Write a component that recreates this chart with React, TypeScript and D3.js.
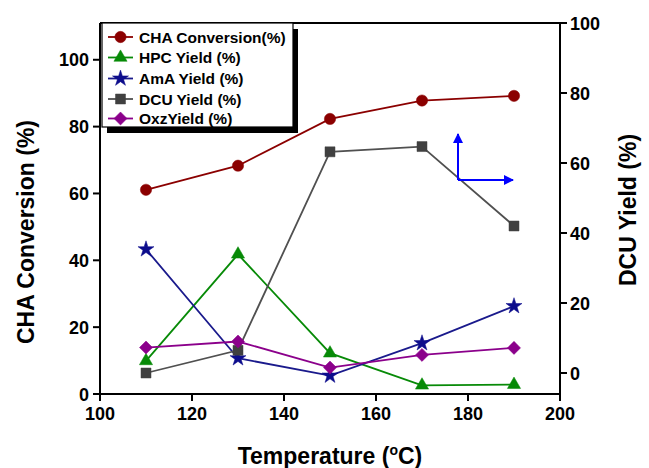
import React from "react";
import * as d3 from "d3";

const temps = [110, 130, 150, 170, 190];
const chaConversion = [61.1, 68.3, 82.3, 87.8, 89.2];
const hpcYield = [9.9, 41.8, 12.2, 2.6, 2.8];
const amaYield = [43.3, 10.7, 5.5, 15.2, 26.3];
const dcuYield = [0, 6.5, 63.2, 64.7, 42];
const oxzYield = [13.9, 15.7, 7.9, 11.7, 13.8];

const xTicks = [100, 120, 140, 160, 180, 200];
const yLeftTicks = [0, 20, 40, 60, 80, 100];
const yRightTicks = [0, 20, 40, 60, 80, 100];

const FONT = "'Liberation Sans', Arial, sans-serif";

type Series = {
  name: string;
  values: number[];
  color: string;
  lineColor: string;
  symbol: string;
  axis: "left" | "right";
};

const seriesList: Series[] = [
  { name: "CHA Conversion(%)", values: chaConversion, color: "#8b0000", lineColor: "#8b0000", symbol: "circle", axis: "left" },
  { name: "HPC Yield (%)", values: hpcYield, color: "#078a07", lineColor: "#078a07", symbol: "triangle", axis: "left" },
  { name: "AmA Yield (%)", values: amaYield, color: "#0d0d8c", lineColor: "#1a1a8c", symbol: "star", axis: "left" },
  { name: "DCU Yield (%)", values: dcuYield, color: "#404040", lineColor: "#505050", symbol: "square", axis: "right" },
  { name: "OxzYield (%)", values: oxzYield, color: "#8b008b", lineColor: "#8b008b", symbol: "diamond", axis: "left" },
];

function symbolPath(kind: string): { d: string; rot: number } {
  switch (kind) {
    case "circle":
      return { d: d3.symbol(d3.symbolCircle, 100)() as string, rot: 0 };
    case "triangle":
      return { d: d3.symbol(d3.symbolTriangle, 75)() as string, rot: 0 };
    case "star":
      return { d: d3.symbol(d3.symbolStar, 80)() as string, rot: 0 };
    case "square":
      return { d: d3.symbol(d3.symbolSquare, 100)() as string, rot: 0 };
    case "diamond":
      return { d: d3.symbol(d3.symbolSquare, 85)() as string, rot: 45 };
    default:
      return { d: d3.symbol(d3.symbolCircle, 64)() as string, rot: 0 };
  }
}

export default function App() {
  const W = 649;
  const H = 468;
  const x0 = 100, x1 = 560, yTop = 23, yBot = 394;

  const x = d3.scaleLinear().domain([100, 200]).range([x0, x1]);
  const yL = d3.scaleLinear().domain([0, 111]).range([yBot, yTop]);
  const yR = d3.scaleLinear().domain([-6, 100]).range([yBot, yTop]);

  const tickFont = { fontFamily: FONT, fontWeight: 700, fontSize: 18 } as const;

  const arrowX = 458, arrowY = 180;

  const legendX = 102, legendY = 23, legendW = 191, legendH = 104;
  const rowY = [37, 57.5, 78.5, 99, 118.5];

  return (
    <svg width={W} height={H} style={{ position: "absolute", left: 0, top: 0, background: "#fff" }}>
      <rect x={0} y={0} width={W} height={H} fill="#ffffff" />
      <defs>
        <marker id="ah" viewBox="0 0 10 10" refX="9" refY="5" markerWidth="10" markerHeight="10" markerUnits="userSpaceOnUse" orient="auto">
          <path d="M0,0 L10,5 L0,10 z" fill="#0000ff" />
        </marker>
      </defs>

      {/* frame */}
      <line x1={x0} x2={x1} y1={yTop} y2={yTop} stroke="#000" strokeWidth={2} />
      <line x1={x0} x2={x1} y1={yBot} y2={yBot} stroke="#000" strokeWidth={2} />
      <line x1={x0} x2={x0} y1={yTop} y2={yBot} stroke="#000" strokeWidth={2} />
      <line x1={x1} x2={x1} y1={yTop} y2={yBot} stroke="#000" strokeWidth={2} />

      {/* bottom ticks */}
      {xTicks.map((t) => (
        <g key={"xt" + t}>
          <line x1={x(t)} x2={x(t)} y1={yBot} y2={yBot + 7} stroke="#000" strokeWidth={2} />
          <text x={x(t)} y={420} textAnchor="middle" {...tickFont}>{t}</text>
        </g>
      ))}
      {/* left ticks */}
      {yLeftTicks.map((t) => (
        <g key={"yl" + t}>
          <line x1={x0 - 7} x2={x0} y1={yL(t)} y2={yL(t)} stroke="#000" strokeWidth={2} />
          <text x={x0 - 11} y={yL(t) + 6.5} textAnchor="end" {...tickFont}>{t}</text>
        </g>
      ))}
      {/* right ticks */}
      {yRightTicks.map((t) => (
        <g key={"yr" + t}>
          <line x1={x1} x2={x1 + 7} y1={yR(t)} y2={yR(t)} stroke="#000" strokeWidth={2} />
          <text x={x1 + 10} y={yR(t) + 6.5} textAnchor="start" {...tickFont}>{t}</text>
        </g>
      ))}

      {/* axis titles */}
      <text transform={`translate(34,232) rotate(-90)`} textAnchor="middle" fontFamily={FONT} fontWeight={700} fontSize={23}>CHA Conversion (%)</text>
      <text transform={`translate(636,210) rotate(-90)`} textAnchor="middle" fontFamily={FONT} fontWeight={700} fontSize={23}>DCU Yield (%)</text>
      <text x={330} y={464} textAnchor="middle" fontFamily={FONT} fontWeight={700} fontSize={23}>
        Temperature (<tspan fontSize={14} dy={-9}>o</tspan><tspan dy={9}>C)</tspan>
      </text>

      {/* series */}
      {seriesList.map((s) => {
        const yS = s.axis === "left" ? yL : yR;
        const line = d3.line<number>().x((_, i) => x(temps[i])).y((v) => yS(v));
        const sym = symbolPath(s.symbol);
        return (
          <g key={s.name}>
            <path d={line(s.values) as string} fill="none" stroke={s.lineColor} strokeWidth={1.8} />
            {s.values.map((v, i) => (
              <path key={i} d={sym.d} fill={s.color} stroke={s.color} strokeWidth={0.5}
                transform={`translate(${x(temps[i])},${yS(v)}) rotate(${sym.rot})`} />
            ))}
          </g>
        );
      })}

      {/* arrows */}
      <line x1={arrowX} y1={arrowY} x2={arrowX} y2={134} stroke="#0000ff" strokeWidth={2} markerEnd="url(#ah)" />
      <line x1={arrowX} y1={arrowY} x2={513} y2={arrowY} stroke="#0000ff" strokeWidth={2} markerEnd="url(#ah)" />

      {/* legend */}
      <rect x={legendX + 5} y={legendY + 6} width={legendW} height={legendH} fill="#000" />
      <rect x={legendX} y={legendY} width={legendW} height={legendH} fill="#fff" stroke="#000" strokeWidth={1.2} />
      {seriesList.map((s, i) => {
        const sym = symbolPath(s.symbol);
        const cy = rowY[i];
        return (
          <g key={"lg" + s.name}>
            <line x1={108} x2={133} y1={cy} y2={cy} stroke={s.lineColor} strokeWidth={1.8} />
            <path d={sym.d} fill={s.color} stroke={s.color} strokeWidth={0.5}
              transform={`translate(120.5,${cy}) rotate(${sym.rot})`} />
            <text x={139} y={cy + 5.5} fontFamily={FONT} fontWeight={700} fontSize={15.5}>{s.name}</text>
          </g>
        );
      })}
    </svg>
  );
}
